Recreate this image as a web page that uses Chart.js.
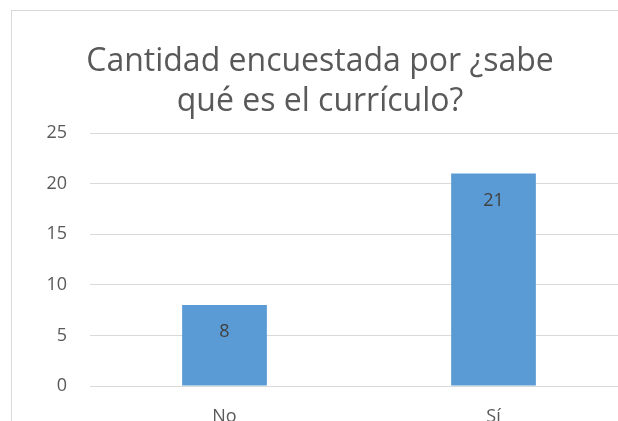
<!DOCTYPE html>
<html><head><meta charset="utf-8">
<script src="https://cdn.jsdelivr.net/npm/chart.js@4"></script>
<style>
html,body{margin:0;padding:0;background:#fff;overflow:hidden;width:618px;height:421px;}
#frame{position:absolute;left:11px;top:10px;width:700px;height:500px;border:1px solid #d9d9d9;box-sizing:border-box;}
#wrap{position:absolute;left:12px;top:11px;width:616px;height:415px;}
</style></head>
<body>
<div id="frame"></div>
<div id="wrap"><canvas id="c"></canvas></div>
<script>
const categories = ["No", "Sí"];
const values = [8, 21];
const titleLines = ["Cantidad encuestada por ¿sabe", "qué es el currículo?"];
const yTicks = [0, 5, 10, 15, 20, 25];

const FONT = "'Open Sans', 'Liberation Sans', sans-serif";
const TXT = "#595959";

const valueLabels = {
  id: 'valueLabels',
  afterDatasetsDraw(chart) {
    const ctx = chart.ctx;
    const meta = chart.getDatasetMeta(0);
    ctx.save();
    ctx.fillStyle = "#404040";
    ctx.font = "18px " + FONT;
    ctx.textAlign = "center";
    ctx.textBaseline = "middle";
    meta.data.forEach((bar, i) => {
      ctx.fillText(String(values[i]), bar.x, bar.y + 27);
    });
    ctx.restore();
  }
};

new Chart(document.getElementById('c'), {
  type: 'bar',
  data: {
    labels: categories,
    datasets: [{
      data: values,
      backgroundColor: "#5B9BD5",
      borderWidth: 0,
      barPercentage: 0.63,
      categoryPercentage: 0.5
    }]
  },
  options: {
    responsive: true,
    maintainAspectRatio: false,
    animation: false,
    layout: { padding: { left: 0, right: 0, top: 0, bottom: 0 } },
    plugins: {
      legend: { display: false },
      tooltip: { enabled: false },
      title: {
        display: true,
        text: titleLines,
        color: TXT,
        font: { family: FONT, size: 32, weight: 'normal', lineHeight: 1.25 },
        padding: { top: 31, bottom: 11 }
      }
    },
    scales: {
      x: {
        grid: { display: false, drawTicks: false },
        border: { display: false },
        ticks: { color: TXT, font: { family: FONT, size: 18 }, padding: 20 },
        afterFit(s) { s.height = 40; }
      },
      y: {
        min: 0, max: 25,
        afterBuildTicks(s) { s.ticks = yTicks.map(v => ({ value: v })); },
        grid: { color: "#d9d9d9", lineWidth: 1, drawTicks: false },
        border: { display: false },
        ticks: { color: TXT, font: { family: FONT, size: 18 }, padding: 23 },
        afterFit(s) { s.width = 78; }
      }
    }
  },
  plugins: [valueLabels]
});
</script>
</body></html>
